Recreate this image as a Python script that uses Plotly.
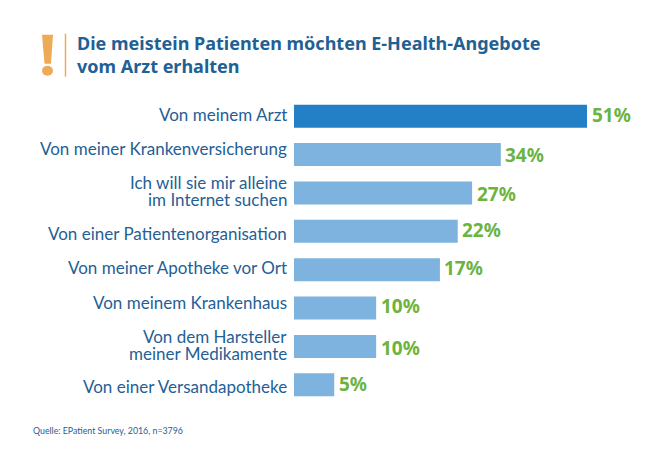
import plotly.graph_objects as go

categories = ["Von meinem Arzt", "Von meiner Krankenversicherung",
              "Ich will sie mir alleine<br>im Internet suchen",
              "Von einer Patientenorganisation", "Von meiner Apotheke vor Ort",
              "Von meinem Krankenhaus", "Von dem Harsteller<br>meiner Medikamente",
              "Von einer Versandapotheke"]
# printed percentages
printed = [51, 34, 27, 22, 17, 10, 10, 5]
# bar lengths as drawn in the picture (bars are not proportional to the printed values)
drawn = [51, 36, 31, 28.5, 25.4, 14.3, 14.3, 7]

TITLE = "Die meistein Patienten möchten E-Health-Angebote<br>vom Arzt erhalten"
SOURCE = "Quelle: EPatient Survey, 2016, n=3796"

BLUE = "#1F6095"; DARK = "#2480C6"; LIGHT = "#7DB3DE"; GREEN = "#6CB33F"; ORANGE = "#EDAB57"
W, H = 660, 454
L, R, T, B = 294, 73, 97.3, 49.9
def px(x): return (x - L) / (W - L - R)
def py(y): return 1 - (y - T) / (H - T - B)

cat_shift = [1.5, 6, 1.5, -2, 2, 6, 1.5, -2]
val_shift = [1.5, 0, -1, 1, 2, 2, -2, 1]
FONT = "Lato"

fig = go.Figure(go.Bar(y=categories, x=drawn, orientation="h",
                       marker=dict(color=[DARK] + [LIGHT] * 7, line_width=0),
                       hoverinfo="skip"))
ann = []
for c, p, d, cs, vs in zip(categories, printed, drawn, cat_shift, val_shift):
    lines = c.split("<br>")
    offs = [0] if len(lines) == 1 else [8.5, -8.5]
    for line, off in zip(lines, offs):
        ann.append(dict(x=0, y=c, xref="x", yref="y", text=line, showarrow=False, xanchor="right",
                        xshift=-5, yshift=cs + off, align="right",
                        font=dict(family=FONT, size=17, color=BLUE)))
    ann.append(dict(x=d, y=c, xref="x", yref="y", text=f"<b>{p}%</b>", showarrow=False,
                    xanchor="left", xshift=2.5, yshift=vs,
                    font=dict(family="Noto Sans", size=19, color=GREEN)))
ann.append(dict(x=px(75), y=py(54.5), xref="paper", yref="paper", text=f"<b>{TITLE}</b>",
                showarrow=False, xanchor="left", yanchor="middle", align="left",
                font=dict(family="Noto Sans", size=18, color=BLUE)))
ann.append(dict(x=px(31), y=py(431), xref="paper", yref="paper", text=SOURCE, showarrow=False,
                xanchor="left", yanchor="middle", font=dict(family=FONT, size=8.8, color=BLUE)))

shapes = [
    dict(type="line", xref="paper", yref="paper", x0=px(65.5), x1=px(65.5), y0=py(34), y1=py(77),
         line=dict(color=ORANGE, width=1.5)),
    dict(type="path", xref="paper", yref="paper", fillcolor=ORANGE, line_width=0,
         path=f"M {px(42)} {py(35)} L {px(53)} {py(35)} L {px(51)} {py(64)} L {px(44.5)} {py(64)} Z"),
    dict(type="circle", xref="paper", yref="paper", fillcolor=ORANGE, line_width=0,
         x0=px(42), x1=px(53), y0=py(76), y1=py(66)),
]

fig.update_layout(
    width=W, height=H, paper_bgcolor="white", plot_bgcolor="white", showlegend=False,
    margin=dict(l=L, r=R, t=T, b=B), bargap=0.4, annotations=ann, shapes=shapes,
    xaxis=dict(range=[0, 51], visible=False, fixedrange=True),
    yaxis=dict(autorange="reversed", visible=False, fixedrange=True),
)
fig.write_html("out.html", config={"displayModeBar": False},
               post_script="document.body.style.margin='0';")
